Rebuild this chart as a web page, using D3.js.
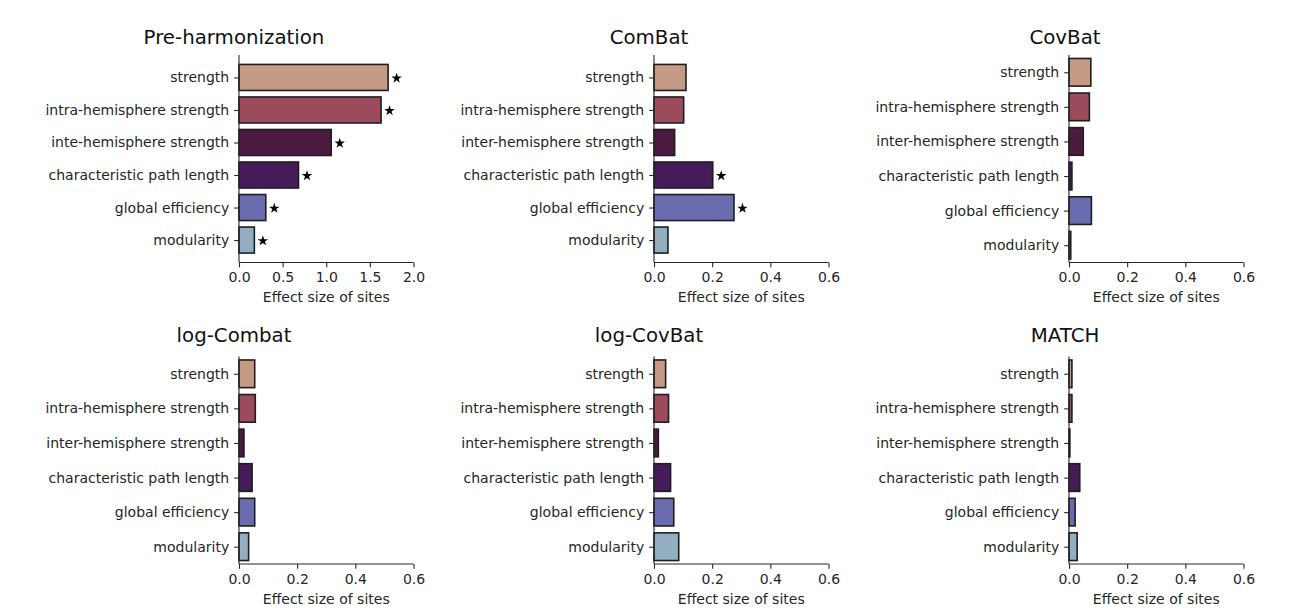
<!DOCTYPE html>
<html>
<head>
<meta charset="utf-8">
<script src="https://cdn.jsdelivr.net/npm/d3@7"></script>
<style>
html,body{margin:0;padding:0;background:#fff;}
svg{display:block;font-family:"DejaVu Sans",sans-serif;}
</style>
</head>
<body>
<svg id="chart" width="1302" height="610"></svg>
<script>
// ---------- data ----------
const titles = ["Pre-harmonization","ComBat","CovBat","log-Combat","log-CovBat","MATCH"];
const categoriesPre = ["strength","intra-hemisphere strength","inte-hemisphere strength","characteristic path length","global efficiency","modularity"];
const categories = ["strength","intra-hemisphere strength","inter-hemisphere strength","characteristic path length","global efficiency","modularity"];
const preValues       = [1.709, 1.628, 1.057, 0.682, 0.307, 0.176];
const combatValues    = [0.110, 0.102, 0.071, 0.202, 0.275, 0.048];
const covbatValues    = [0.075, 0.070, 0.049, 0.010, 0.077, 0.006];
const logCombatValues = [0.054, 0.056, 0.017, 0.045, 0.054, 0.033];
const logCovbatValues = [0.040, 0.050, 0.015, 0.057, 0.068, 0.085];
const matchValues     = [0.010, 0.010, 0.003, 0.037, 0.021, 0.028];
const preSig       = [true, true, true, true, true, true];
const combatSig    = [false, false, false, true, true, false];
const noSig        = [false, false, false, false, false, false];
const ticksPre   = [0, 0.5, 1.0, 1.5, 2.0];
const ticksOther = [0, 0.2, 0.4, 0.6];
const xLabel = "Effect size of sites";
const barColors = ["#c49a84","#9c4b5c","#4b1a3e","#451b5a","#6b6bb0","#93aec0"];

const panels = [
  {title: titles[0], cats: categoriesPre, vals: preValues,       sig: preSig,    ticks: ticksPre,   margins: true},
  {title: titles[1], cats: categories,    vals: combatValues,    sig: combatSig, ticks: ticksOther, margins: true},
  {title: titles[2], cats: categories,    vals: covbatValues,    sig: noSig,     ticks: ticksOther, margins: false},
  {title: titles[3], cats: categories,    vals: logCombatValues, sig: noSig,     ticks: ticksOther, margins: false},
  {title: titles[4], cats: categories,    vals: logCovbatValues, sig: noSig,     ticks: ticksOther, margins: false},
  {title: titles[5], cats: categories,    vals: matchValues,     sig: noSig,     ticks: ticksOther, margins: false}
];

// ---------- layout ----------
const colLeft = [239, 654, 1069];
const titleCx = [234, 649, 1065];
const axW = 174.5;
const rowTop = [55, 356.5];
const axH = 207.5;
const ink = "#262626";

const svg = d3.select("#chart");
const fmt = d3.format(".1f");

panels.forEach((p, k) => {
  const col = k % 3, row = Math.floor(k / 3);
  const x0 = colLeft[col], y0 = rowTop[row];
  const n = p.cats.length;
  const x = d3.scaleLinear().domain([0, d3.max(p.ticks)]).range([x0, x0 + axW]);
  const m = p.margins ? 0.05 * (n - 1 + 0.8) : 0;
  const lo = p.margins ? -0.4 - m : -0.5;
  const hi = p.margins ? (n - 1) + 0.4 + m : n - 0.5;
  const y = d3.scaleLinear().domain([lo, hi]).range([y0, y0 + axH]);

  const g = svg.append("g");

  // bars
  g.selectAll("rect.bar").data(p.vals).enter().append("rect")
    .attr("class","bar")
    .attr("x", x(0))
    .attr("y", (d,i) => y(i - 0.4))
    .attr("width", d => x(d) - x(0))
    .attr("height", (d,i) => y(i + 0.4) - y(i - 0.4))
    .attr("fill", (d,i) => barColors[i])
    .attr("stroke", "#1e1e1e")
    .attr("stroke-width", 1.6);

  // significance stars
  const star = d3.symbol().type(d3.symbolStar).size(34);
  g.selectAll("path.star").data(p.vals.map((v,i)=>({v,i})).filter(d => p.sig[d.i])).enter()
    .append("path").attr("class","star")
    .attr("d", star)
    .attr("fill", "#000")
    .attr("transform", d => `translate(${x(d.v) + 8.5},${y(d.i) + 0.8})`);

  // x axis
  const xAxis = d3.axisBottom(x).tickValues(p.ticks).tickFormat(fmt).tickSize(4.8).tickPadding(5);
  const gx = g.append("g").attr("transform", `translate(0,${y0 + axH})`).call(xAxis);
  gx.select(".domain").attr("stroke", ink).attr("stroke-width", 1.1).attr("d", `M${x0},0H${x0 + axW}`);
  gx.selectAll(".tick line").attr("stroke", ink).attr("stroke-width", 1.1);
  gx.selectAll(".tick text").attr("fill", ink).attr("font-size", 14).attr("font-family", "DejaVu Sans");

  // y axis
  const yAxis = d3.axisLeft(y).tickValues(d3.range(n)).tickFormat(i => p.cats[i]).tickSize(4.8).tickPadding(5);
  const gy = g.append("g").attr("transform", `translate(${x0},0)`).call(yAxis);
  gy.select(".domain").attr("stroke", ink).attr("stroke-width", 1.1).attr("d", `M0,${y0}V${y0 + axH}`);
  gy.selectAll(".tick line").attr("stroke", ink).attr("stroke-width", 1.1);
  gy.selectAll(".tick text").attr("fill", ink).attr("font-size", 14).attr("font-family", "DejaVu Sans");

  // x label
  g.append("text")
    .attr("x", x0 + axW / 2).attr("y", y0 + axH + 39.5)
    .attr("text-anchor", "middle").attr("font-size", 14).attr("fill", ink)
    .text(xLabel);

  // title
  g.append("text")
    .attr("x", titleCx[col]).attr("y", row === 0 ? 43.5 : 341.5)
    .attr("text-anchor", "middle").attr("font-size", 19.8).attr("fill", "#111")
    .text(p.title);
});
</script>
</body>
</html>
